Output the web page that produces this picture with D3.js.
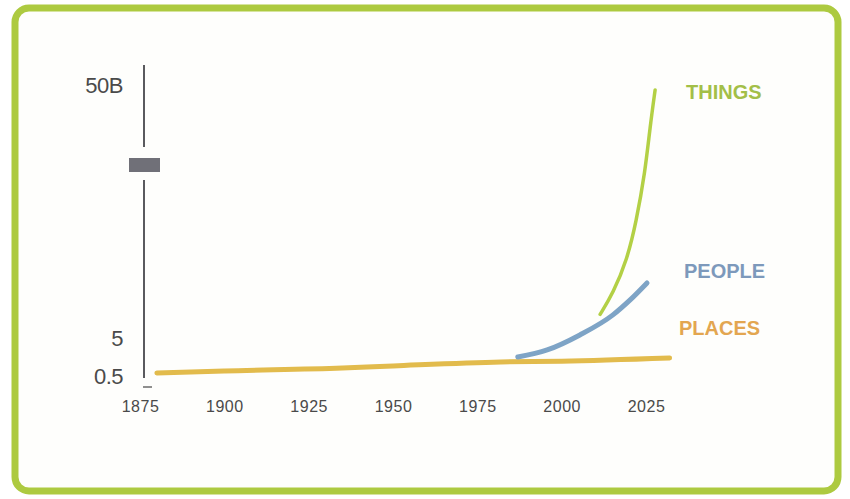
<!DOCTYPE html>
<html>
<head>
<meta charset="utf-8">
<script src="https://cdn.jsdelivr.net/npm/d3@7"></script>
<style>
  html, body { margin: 0; padding: 0; background: #ffffff; }
  svg { display: block; }
</style>
</head>
<body>
<figure id="chart" style="margin:0"></figure>
<script>
// data (values in billions)
const placesYears = [1880, 1900, 1935, 1950, 1982, 2000, 2032];
const placesValues = [0.6, 0.68, 0.81, 0.92, 1.17, 1.23, 1.49];

const peopleYears = [1987, 1995.7, 2005.4, 2015.2, 2020.3, 2025.3];
const peopleValues = [1.58, 2.42, 5.14, 6.17, 7.07, 8.25];

const thingsYears = [2011.4, 2015.2, 2019.4, 2022.1, 2024.7, 2026.2, 2027.7];
const thingsValues = [6.2, 7.5, 10.2, 14.4, 22.5, 34.1, 47.8];

const xTicks = [1875, 1900, 1925, 1950, 1975, 2000, 2025];
const yTicks = [0.5, 5, 50];
const yTickLabels = ["0.5", "5", "50B"];

const seriesNames = ["THINGS", "PEOPLE", "PLACES"];

const width = 850, height = 499;

const svg = d3.select("figure#chart")
  .append("svg")
  .attr("width", width)
  .attr("height", height);

// frame
svg.append("rect")
  .attr("x", 15)
  .attr("y", 8)
  .attr("width", 823)
  .attr("height", 483)
  .attr("rx", 14)
  .attr("fill", "#fefefc")
  .attr("stroke", "#adca40")
  .attr("stroke-width", 7);

// scales - y axis is broken, two log pieces
const x = d3.scaleLinear()
  .domain([1875, 2025])
  .range([140, 646]);

const y = d3.scaleLog()
  .domain([0.5, 5, 50])
  .range([376, 338, 85]);

// y axis line with break marker
const axisX = 144;
const g = svg.append("g");
g.append("line")
  .attr("x1", axisX).attr("x2", axisX)
  .attr("y1", y(50) - 20).attr("y2", 147)
  .attr("stroke", "#5a5a5e").attr("stroke-width", 2);
g.append("line")
  .attr("x1", axisX).attr("x2", axisX)
  .attr("y1", 180).attr("y2", y(0.5) + 2)
  .attr("stroke", "#5a5a5e").attr("stroke-width", 2);
g.append("rect")
  .attr("x", 129).attr("y", 158)
  .attr("width", 31).attr("height", 14)
  .attr("fill", "#707078");
g.append("line")
  .attr("x1", 143).attr("x2", 152)
  .attr("y1", 387).attr("y2", 387)
  .attr("stroke", "#6a6a6a").attr("stroke-width", 1.5);

const yAxis = svg.append("g")
  .attr("transform", "translate(123,0)")
  .call(d3.axisLeft(y)
    .tickValues(yTicks)
    .tickSize(0)
    .tickPadding(0)
    .tickFormat((d, i) => yTickLabels[i]));
yAxis.select(".domain").remove();
yAxis.selectAll("text")
  .attr("fill", "#4a4a4a")
  .style("font", "22px 'Liberation Sans', Arial, sans-serif")
  .style("letter-spacing", "-0.5px");

const xAxis = svg.append("g")
  .attr("transform", "translate(0,401)")
  .call(d3.axisBottom(x)
    .tickValues(xTicks)
    .tickSize(0)
    .tickPadding(0)
    .tickFormat(d3.format("d")));
xAxis.select(".domain").remove();
xAxis.selectAll("text")
  .attr("fill", "#4a4a4a")
  .style("font", "16px 'Liberation Sans Narrow', 'Liberation Sans', Arial, sans-serif")
  .style("letter-spacing", "0.5px");

// lines
function addSeries(years, values, color, w, curve) {
  const line = d3.line()
    .x(d => x(d[0]))
    .y(d => y(d[1]))
    .curve(curve);
  svg.append("path")
    .datum(d3.zip(years, values))
    .attr("fill", "none")
    .attr("stroke", color)
    .attr("stroke-width", w)
    .attr("stroke-linecap", "round")
    .attr("d", line);
}

addSeries(placesYears, placesValues, "#e2bb4c", 5, d3.curveMonotoneX);
addSeries(peopleYears, peopleValues, "#7ea4c6", 5, d3.curveMonotoneX);
addSeries(thingsYears, thingsValues, "#b3d045", 3.5, d3.curveBasis);

// series labels
const labelColors = ["#a3bf48", "#7d99bb", "#e3a650"];
const labelX = [686, 684, 679];
const labelY = [47, 9.2, 5.5];

svg.append("g")
  .selectAll("text")
  .data(seriesNames)
  .join("text")
  .attr("x", (d, i) => labelX[i])
  .attr("y", (d, i) => y(labelY[i]))
  .attr("dy", "0.35em")
  .attr("fill", (d, i) => labelColors[i])
  .style("font", "bold 20px 'Liberation Sans', Arial, sans-serif")
  .text(d => d);
</script>
</body>
</html>
